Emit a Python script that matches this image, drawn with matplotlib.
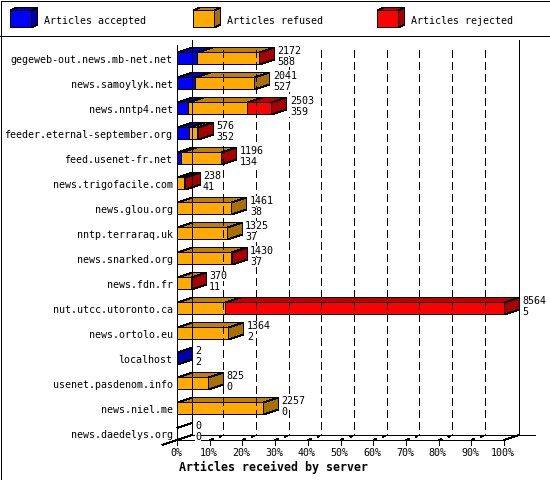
import matplotlib
matplotlib.use("Agg")
import matplotlib.pyplot as plt
import numpy as np
from matplotlib.patches import Polygon, Rectangle
from matplotlib.transforms import IdentityTransform

servers = ["gegeweb-out.news.mb-net.net", "news.samoylyk.net", "news.nntp4.net",
           "feeder.eternal-september.org", "feed.usenet-fr.net", "news.trigofacile.com",
           "news.glou.org", "nntp.terraraq.uk", "news.snarked.org", "news.fdn.fr",
           "nut.utcc.utoronto.ca", "news.ortolo.eu", "localhost", "usenet.pasdenom.info",
           "news.niel.me", "news.daedelys.org"]
accepted = [6.4, 5.8, 3.6, 3.7, 1.4, 0, 0, 0, 0, 0, 0, 0, 0.02, 0, 0, 0]
refused = [18.7, 18.0, 17.9, 2.7, 12.1, 2.4, 16.8, 15.3, 16.8, 4.3, 14.7, 15.9, 0, 9.5, 26.3, 0]
rejected = [0.05, 0, 7.5, 0.05, 0.05, 0.05, 0, 0, 0.05, 0.05, 85.3, 0, 0, 0, 0, 0]
label_top = [2172, 2041, 2503, 576, 1196, 238, 1461, 1325, 1430, 370, 8564, 1364, 2, 825, 2257, 0]
label_bottom = [588, 527, 359, 352, 134, 41, 38, 37, 37, 11, 5, 2, 2, 0, 0, 0]
legend_names = ["Articles accepted", "Articles refused", "Articles rejected"]
xticks = [0, 10, 20, 30, 40, 50, 60, 70, 80, 90, 100]
xtitle = "Articles received by server"

front = ["#0000FF", "#FFAA00", "#FF0000"]
top = ["#0000C0", "#BF8000", "#BF0000"]
side = ["#0000A8", "#A87000", "#A80000"]

# px per unit in the plot area
PX_X = 3.27
PX_Y = 25.0
DX = 15 / PX_X
DY = -5 / PX_Y
BAR_H = 12 / PX_Y
LW = 0.72

plt.rcParams["font.family"] = ["DejaVu Sans Mono"]

fig = plt.figure(figsize=(5.5, 4.8), dpi=100, facecolor="white")

# overlay in pixels for the frame and the legend
bg = fig.add_axes([0, 0, 1, 1])
bg.set_xlim(0, 550)
bg.set_ylim(480, 0)
bg.axis("off")

ax = fig.add_axes([177 / 550, 40 / 480, 327 / 550, 400 / 480])
ax.set_xlim(0, 100)
ax.set_ylim(15, -1)
ax.axis("off")
ax.patch.set_visible(False)


def poly(axis, pts, color):
    # put the corners on pixel centres so the edges stay one pixel wide
    px = np.floor(axis.transData.transform(pts)) + 0.5
    axis.add_patch(Polygon(px, closed=True, facecolor=color, edgecolor="black", linewidth=LW,
                           antialiased=False, clip_on=False, joinstyle="miter", snap=False,
                           transform=IdentityTransform()))


def line(axis, xs, ys, **kw):
    axis.plot(xs, ys, color="black", linewidth=LW, antialiased=False, clip_on=False,
              solid_capstyle="butt", **kw)


def draw_box(x0, x1, y, k, with_side):
    y0 = y - BAR_H
    poly(ax, [(x0, y0), (x1, y0), (x1 + DX, y0 + DY), (x0 + DX, y0 + DY)], top[k])
    poly(ax, [(x0, y0), (x1, y0), (x1, y), (x0, y)], front[k])
    if with_side:
        poly(ax, [(x1, y), (x1 + DX, y + DY), (x1 + DX, y0 + DY), (x1, y0)], side[k])


# back wall
back_top = -1
front_floor = 15
line(ax, [DX, DX], [back_top, front_floor + DY])
line(ax, [100 + DX, 100 + DX], [back_top, front_floor + DY])
line(ax, [0, 0], [-0.8, front_floor])
for v in xticks[1:-1]:
    ax.plot([v + DX - 1.5 / PX_X] * 2, [-0.6, front_floor + DY], color="black", linewidth=LW,
            antialiased=False, linestyle=(0, (7, 5)), clip_on=False)

# floor
line(ax, [DX, 100 + DX + 16 / PX_X], [front_floor + DY, front_floor + DY])
line(ax, [0, 100], [front_floor, front_floor])
line(ax, [100, 100 + DX], [front_floor, front_floor + DY])
line(ax, [-15 / PX_X, DX], [front_floor + 5 / PX_Y, front_floor + DY])
for v in xticks:
    line(ax, [v, v], [front_floor, front_floor + 5 / PX_Y])
    if 0 < v < 100:
        ax.plot([v, v + DX], [front_floor, front_floor + DY], color="black", linewidth=1.0,
                antialiased=False, linestyle=(0, (2.5, 4.5, 2, 100)), clip_on=False)
    ax.text(v - 0.3, front_floor + 13 / PX_Y, "%d%%" % v, ha="center", va="center", fontsize=7.2)
ax.text(29.4, front_floor + 27 / PX_Y, xtitle, ha="center", va="center",
        fontsize=8.4, fontweight="bold")

# bars
white_box = dict(facecolor="white", edgecolor="none", pad=0.3)
for i, name in enumerate(servers):
    vals = [accepted[i], refused[i], rejected[i]]
    last = max([k for k in range(3) if vals[k] > 0], default=-1)
    start = 0
    for k in range(3):
        if vals[k] > 0:
            draw_box(start, start + vals[k], i, k, k == last)
            start += vals[k]
    if last == -1:
        y0 = i - BAR_H
        line(ax, [0, DX], [i, i + DY])
        line(ax, [0, DX], [y0, y0 + DY])
    ax.text(-4.5 / PX_X, i - 5 / PX_Y, name, ha="right", va="center", fontsize=7.2)
    ax.text(start + DX + 3 / PX_X, i - 14 / PX_Y, str(label_top[i]), ha="left", va="center",
            fontsize=7.2, bbox=white_box)
    ax.text(start + DX + 3 / PX_X, i - 3 / PX_Y, str(label_bottom[i]), ha="left", va="center",
            fontsize=7.2, bbox=white_box)

# frame and legend
bg.add_patch(Rectangle((0.5, 0.5), 549, 479, facecolor="white", edgecolor="black",
                       linewidth=LW, antialiased=False))
line(bg, [0, 550], [35.5, 35.5])
for x0, name, k in zip([10, 193, 377], legend_names, range(3)):
    poly(bg, [(x0, 11), (x0 + 21, 11), (x0 + 27, 8), (x0 + 6, 8)], top[k])
    poly(bg, [(x0 + 21, 11), (x0 + 27, 8), (x0 + 27, 25), (x0 + 21, 28)], side[k])
    poly(bg, [(x0, 11), (x0 + 21, 11), (x0 + 21, 28), (x0, 28)], front[k])
    bg.text(x0 + 34, 21, name, ha="left", va="center", fontsize=7.2)

fig.savefig("out.png", dpi=100)
